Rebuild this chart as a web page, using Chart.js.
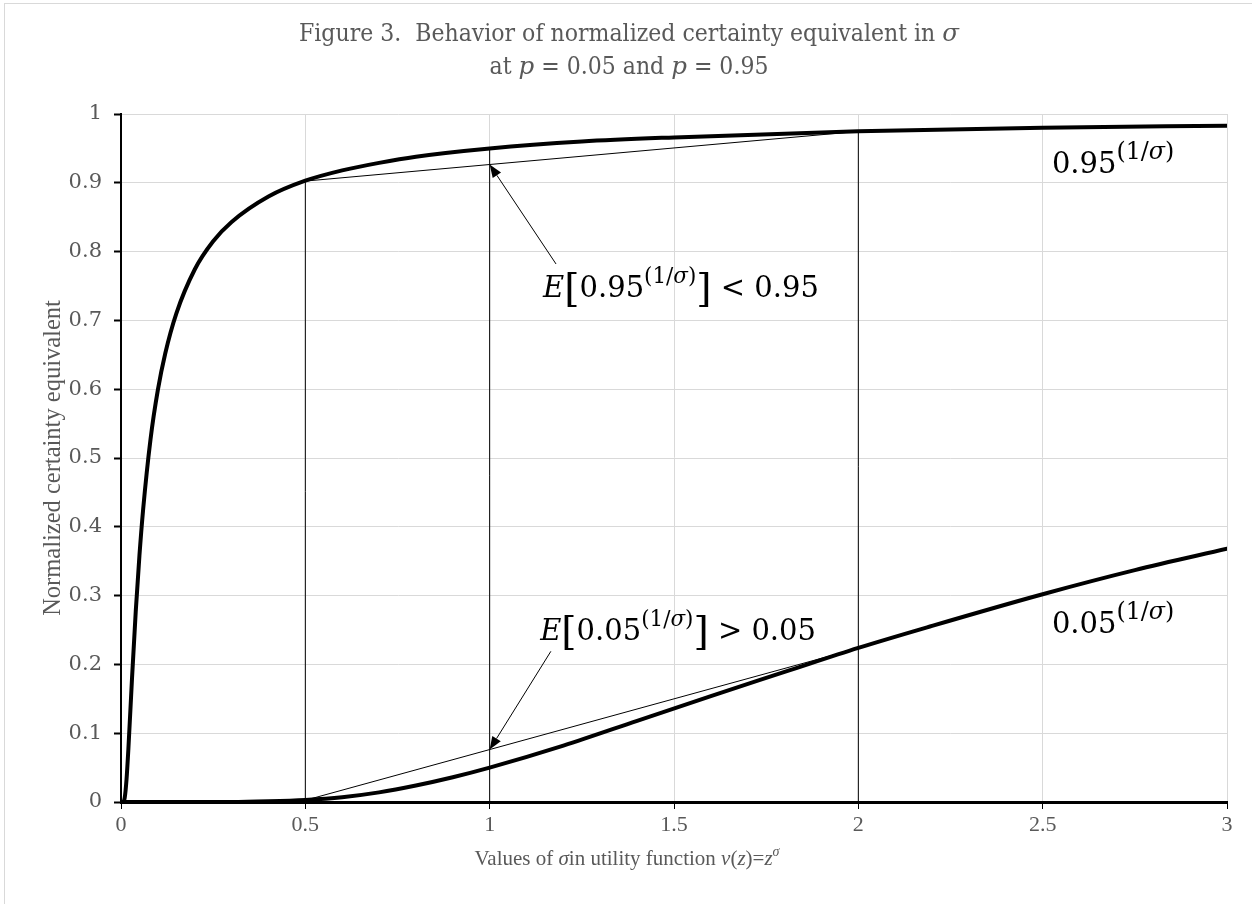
<!DOCTYPE html>
<html>
<head>
<meta charset="utf-8">
<script src="https://cdn.jsdelivr.net/npm/chart.js@4.4.0/dist/chart.umd.min.js"></script>
<style>
  body { margin: 0; background: #fff; }
  #wrap { position: relative; width: 1252px; height: 904px; }
</style>
</head>
<body>
<div id="wrap"><canvas id="ceChart" width="1252" height="904"></canvas></div>
<script>
// values
const sigmaHigh = [0, 0.005, 0.01, 0.015, 0.02, 0.03, 0.04, 0.05, 0.06, 0.08, 0.1, 0.12, 0.15, 0.2, 0.25, 0.3, 0.4, 0.5, 0.6, 0.7, 0.8, 1.0, 1.25, 1.5, 2.0, 2.5, 3.0];
const ceHigh = [0, 0.000, 0.006, 0.033, 0.077, 0.181, 0.277, 0.358, 0.425, 0.527, 0.599, 0.652, 0.710, 0.774, 0.815, 0.843, 0.880, 0.903, 0.918, 0.929, 0.938, 0.950, 0.960, 0.966, 0.975, 0.980, 0.983];

const sigmaLow = [0, 0.25, 0.3, 0.4, 0.5, 0.6, 0.7, 0.8, 0.9, 1.0, 1.2, 1.4, 1.6, 1.8, 2.0, 2.2, 2.5, 2.75, 3.0];
const ceLow = [0, 0.000, 0.000, 0.001, 0.003, 0.007, 0.014, 0.024, 0.036, 0.050, 0.082, 0.118, 0.154, 0.189, 0.224, 0.256, 0.302, 0.337, 0.368];

// vertical guides at sigma = 0.5, 1, 2 up to the upper curve
const guideSigma = [0.5, 1, 2];
const guideTop = [0.9025, 0.95, 0.9747];

// chords between sigma = 0.5 and sigma = 2
const chordSigma = [0.5, 2];
const chordHigh = [0.9025, 0.9747];
const chordLow = [0.0025, 0.2236];

// arrows: from label to chord at sigma = 1
const arrowFrom = [[1.180, 0.782], [1.166, 0.219]];
const arrowTo = [[1, 0.9266], [1, 0.0762]];

const xTicks = [0, 0.5, 1, 1.5, 2, 2.5, 3];
const yTicks = [0, 0.1, 0.2, 0.3, 0.4, 0.5, 0.6, 0.7, 0.8, 0.9, 1];

const textColor = "#595959";
const gridColor = "#d9d9d9";
const SERIF = "'DejaVu Serif', serif";
const COND = "'DejaVu Serif Condensed', 'DejaVu Serif', serif";
const NARROW = "'Liberation Serif', serif";

function toPoints(xs, ys) {
  return xs.map((x, i) => ({ x: x, y: ys[i] }));
}

const datasets = [];
guideSigma.forEach((s, i) => {
  datasets.push({
    data: [{ x: s, y: 0 }, { x: s, y: guideTop[i] }],
    borderColor: "#000", borderWidth: 1, showLine: true, pointRadius: 0,
  });
});
datasets.push({ data: toPoints(chordSigma, chordHigh), borderColor: "#000", borderWidth: 1, showLine: true, pointRadius: 0 });
datasets.push({ data: toPoints(chordSigma, chordLow), borderColor: "#000", borderWidth: 1, showLine: true, pointRadius: 0 });
datasets.push({
  data: toPoints(sigmaHigh, ceHigh), borderColor: "#000", borderWidth: 4,
  showLine: true, pointRadius: 0, cubicInterpolationMode: "monotone",
});
datasets.push({
  data: toPoints(sigmaLow, ceLow), borderColor: "#000", borderWidth: 4,
  showLine: true, pointRadius: 0, cubicInterpolationMode: "monotone",
});

// draws a run of text pieces with mixed size / italic / raise
function richText(ctx, segs, x, y, align, family) {
  const fontOf = (s) => (s.italic ? "italic " : "") + s.size + "px " + (s.family || family);
  let total = 0;
  segs.forEach((s) => { ctx.font = fontOf(s); total += ctx.measureText(s.t).width; });
  let cx = align === "center" ? x - total / 2 : x;
  ctx.textAlign = "left";
  ctx.textBaseline = "alphabetic";
  segs.forEach((s) => {
    ctx.font = fontOf(s);
    ctx.fillText(s.t, cx, y + (s.rise || 0));
    cx += ctx.measureText(s.t).width;
  });
}

function arrow(ctx, x1, y1, x2, y2) {
  const ang = Math.atan2(y2 - y1, x2 - x1);
  const len = 13, half = 5;
  const bx = x2 - len * Math.cos(ang), by = y2 - len * Math.sin(ang);
  ctx.beginPath();
  ctx.moveTo(x1, y1);
  ctx.lineTo(bx, by);
  ctx.lineWidth = 1;
  ctx.strokeStyle = "#000";
  ctx.stroke();
  ctx.beginPath();
  ctx.moveTo(x2, y2);
  ctx.lineTo(bx + half * Math.sin(ang), by - half * Math.cos(ang));
  ctx.lineTo(bx - half * Math.sin(ang), by + half * Math.cos(ang));
  ctx.closePath();
  ctx.fillStyle = "#000";
  ctx.fill();
}

function mathLabel(base, tail, size, supScale) {
  const sup = size * supScale, lift = -size * 0.48;
  const segs = [];
  if (tail !== null) {
    segs.push({ t: "E", italic: true, size: size });
    segs.push({ t: "[", size: size * 1.35, rise: 4 });
  }
  segs.push({ t: base, size: size });
  segs.push({ t: "(1/", size: sup, rise: lift });
  segs.push({ t: "σ", italic: true, size: sup, rise: lift });
  segs.push({ t: ")", size: sup, rise: lift });
  if (tail !== null) {
    segs.push({ t: "]", size: size * 1.35, rise: 4 });
    segs.push({ t: tail, size: size });
  }
  return segs;
}

const decorations = {
  id: "decorations",
  beforeDraw(chart) {
    const ctx = chart.ctx;
    ctx.save();
    ctx.fillStyle = "#fff";
    ctx.fillRect(0, 0, chart.width, chart.height);
    ctx.strokeStyle = gridColor;
    ctx.lineWidth = 1;
    ctx.strokeRect(4.5, 3.5, chart.width + 10, chart.height + 10);
    ctx.restore();
  },
  afterDatasetsDraw(chart) {
    const ctx = chart.ctx;
    const xs = chart.scales.x, ys = chart.scales.y;
    const area = chart.chartArea;
    const px = (v) => xs.getPixelForValue(v);
    const py = (v) => ys.getPixelForValue(v);
    ctx.save();
    ctx.fillStyle = textColor;
    const midX = chart.width / 2 + 3;
    richText(ctx, [
      { t: "Figure 3.  Behavior of normalized certainty equivalent in ", size: 24.5 },
      { t: "σ", italic: true, size: 24.5, family: SERIF },
    ], midX, 41, "center", COND);
    richText(ctx, [
      { t: "at ", size: 24.5 }, { t: "p", italic: true, size: 24.5, family: SERIF },
      { t: " = 0.05 and ", size: 24.5 }, { t: "p", italic: true, size: 24.5, family: SERIF },
      { t: " = 0.95", size: 24.5 },
    ], midX, 74, "center", COND);

    // axis titles
    richText(ctx, [
      { t: "Values of ", size: 21 }, { t: "σ", italic: true, size: 21 },
      { t: "in utility function ", size: 21 }, { t: "v", italic: true, size: 21 },
      { t: "(", size: 21 }, { t: "z", italic: true, size: 21 }, { t: ")=", size: 21 },
      { t: "z", italic: true, size: 21 }, { t: "σ", italic: true, size: 14, rise: -9 },
    ], 627, 865, "center", NARROW);
    ctx.save();
    ctx.translate(52, (area.top + area.bottom) / 2);
    ctx.rotate(-Math.PI / 2);
    richText(ctx, [{ t: "Normalized certainty equivalent", size: 24.5 }], 0, 8, "center", NARROW);
    ctx.restore();

    // annotations
    ctx.fillStyle = "#000";
    richText(ctx, mathLabel("0.95", " < 0.95", 29, 0.74), px(1.519), py(0.734), "center", SERIF);
    richText(ctx, mathLabel("0.05", " > 0.05", 29, 0.74), px(1.511), py(0.2355), "center", SERIF);
    richText(ctx, mathLabel("0.95", null, 29, 0.82), px(2.525), py(0.914), "left", SERIF);
    richText(ctx, mathLabel("0.05", null, 29, 0.82), px(2.525), py(0.2456), "left", SERIF);

    arrowFrom.forEach((f, i) => {
      arrow(ctx, px(f[0]), py(f[1]), px(arrowTo[i][0]), py(arrowTo[i][1]));
    });
    ctx.restore();
  },
};

new Chart(document.getElementById("ceChart"), {
  type: "scatter",
  data: { datasets: datasets },
  plugins: [decorations],
  options: {
    responsive: false,
    animation: false,
    devicePixelRatio: 1,
    layout: { padding: { top: 114, right: 25, left: 0, bottom: 0 } },
    plugins: { legend: { display: false }, tooltip: { enabled: false } },
    elements: { line: { borderCapStyle: "round" } },
    scales: {
      x: {
        type: "linear", min: 0, max: 3,
        afterBuildTicks: (scale) => { scale.ticks = xTicks.map((v) => ({ value: v })); },
        afterFit: (scale) => { scale.height = 102; },
        grid: { color: gridColor, lineWidth: 1, tickColor: "#000", tickLength: 7, tickWidth: 1 },
        border: { color: "#000", width: 3 },
        ticks: {
          color: textColor, font: { family: NARROW, size: 22 }, padding: 3,
          callback: (v) => String(v),
        },
      },
      y: {
        type: "linear", min: 0, max: 1,
        afterBuildTicks: (scale) => { scale.ticks = yTicks.map((v) => ({ value: v })); },
        afterFit: (scale) => { scale.width = 121; },
        grid: { color: gridColor, lineWidth: 1, tickColor: "#000", tickLength: 7, tickWidth: 2 },
        border: { color: "#000", width: 2 },
        ticks: {
          color: textColor, font: { family: SERIF, size: 21 }, padding: 12,
          callback: (v) => String(v),
        },
      },
    },
  },
});
</script>
</body>
</html>
